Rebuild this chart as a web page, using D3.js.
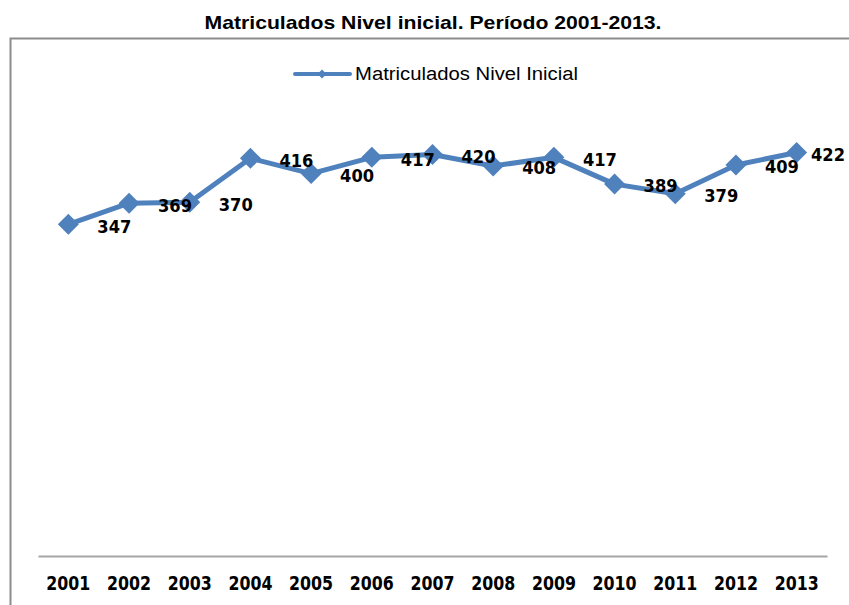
<!DOCTYPE html>
<html>
<head>
<meta charset="utf-8">
<script src="https://cdn.jsdelivr.net/npm/d3@7"></script>
<style>
  body { margin: 0; background: #fff; }
  svg { display: block; }
</style>
</head>
<body>
<svg id="svg" width="849" height="605"></svg>
<script>
// DATA
const years = ["2001", "2002", "2003", "2004", "2005", "2006", "2007", "2008", "2009", "2010", "2011", "2012", "2013"];
const matriculados = [347, 369, 370, 416, 400, 417, 420, 408, 417, 389, 379, 409, 422];
const seriesName = "Matriculados Nivel Inicial";
const title = "Matriculados Nivel inicial. Período 2001-2013.";

const blue = "#4f81bd";
const svg = d3.select("#svg");

// frame (runs off the right and bottom edges)
svg.append("rect")
  .attr("x", 10.5).attr("y", 38.5)
  .attr("width", 900).attr("height", 700)
  .attr("fill", "none")
  .attr("stroke", "#8c8c8c")
  .attr("stroke-width", 2);

svg.append("text")
  .attr("x", 433).attr("y", 29)
  .attr("text-anchor", "middle")
  .style("font", "bold 19px 'Liberation Sans', sans-serif")
  .attr("textLength", 457)
  .attr("lengthAdjust", "spacingAndGlyphs")
  .text(title);

// SCALES
const x = d3.scaleBand().domain(years).range([38, 827]);
const y = d3.scaleLinear().domain([0, 500]).range([556, 78]);
const cx = d => x(d) + x.bandwidth() / 2;

// diamond = square turned 45deg
const diamond = r => `M0,${-r}L${r},0L0,${r}L${-r},0Z`;

// x axis
const xAxis = svg.append("g")
  .attr("transform", `translate(0,${y(0)})`)
  .call(d3.axisBottom(x).tickSize(0).tickPadding(21));
xAxis.select(".domain").attr("stroke", "#a6a6a6").attr("stroke-width", 2);
xAxis.selectAll("text")
  .style("font", "bold 19px 'DejaVu Sans', sans-serif")
  .attr("fill", "#000")
  .attr("textLength", 44)
  .attr("lengthAdjust", "spacingAndGlyphs");

// legend
const lg = svg.append("g").attr("transform", "translate(295,74)");
lg.append("line").attr("x1", 0).attr("x2", 55)
  .attr("stroke", blue).attr("stroke-width", 4).attr("stroke-linecap", "round");
lg.append("path").attr("d", diamond(4.5))
  .attr("transform", "translate(27,0)").attr("fill", blue);
lg.append("text").attr("x", 60).attr("dy", "0.35em")
  .style("font", "18px 'Liberation Sans', sans-serif")
  .attr("textLength", 223)
  .attr("lengthAdjust", "spacingAndGlyphs")
  .text(seriesName);

// line + markers
const pts = years.map((yr, i) => ({ yr, v: matriculados[i] }));

svg.append("path")
  .datum(pts)
  .attr("fill", "none")
  .attr("stroke", blue)
  .attr("stroke-width", 5)
  .attr("stroke-linejoin", "round")
  .attr("d", d3.line().x(d => cx(d.yr)).y(d => y(d.v)));

svg.append("g")
  .selectAll("path")
  .data(pts)
  .join("path")
  .attr("d", diamond(10.5))
  .attr("transform", d => `translate(${cx(d.yr)},${y(d.v)})`)
  .attr("fill", blue);

// value labels (offset to the right like the original, kept inside the page)
svg.append("g")
  .selectAll("text")
  .data(pts)
  .join("text")
  .attr("x", d => Math.min(cx(d.yr) + 46, 828))
  .attr("y", d => y(d.v) + 2)
  .attr("dy", "0.35em")
  .attr("text-anchor", "middle")
  .style("font", "bold 18px 'DejaVu Sans', sans-serif")
  .attr("fill", "#000")
  .attr("textLength", 34)
  .attr("lengthAdjust", "spacingAndGlyphs")
  .text(d => d.v);
</script>
</body>
</html>
